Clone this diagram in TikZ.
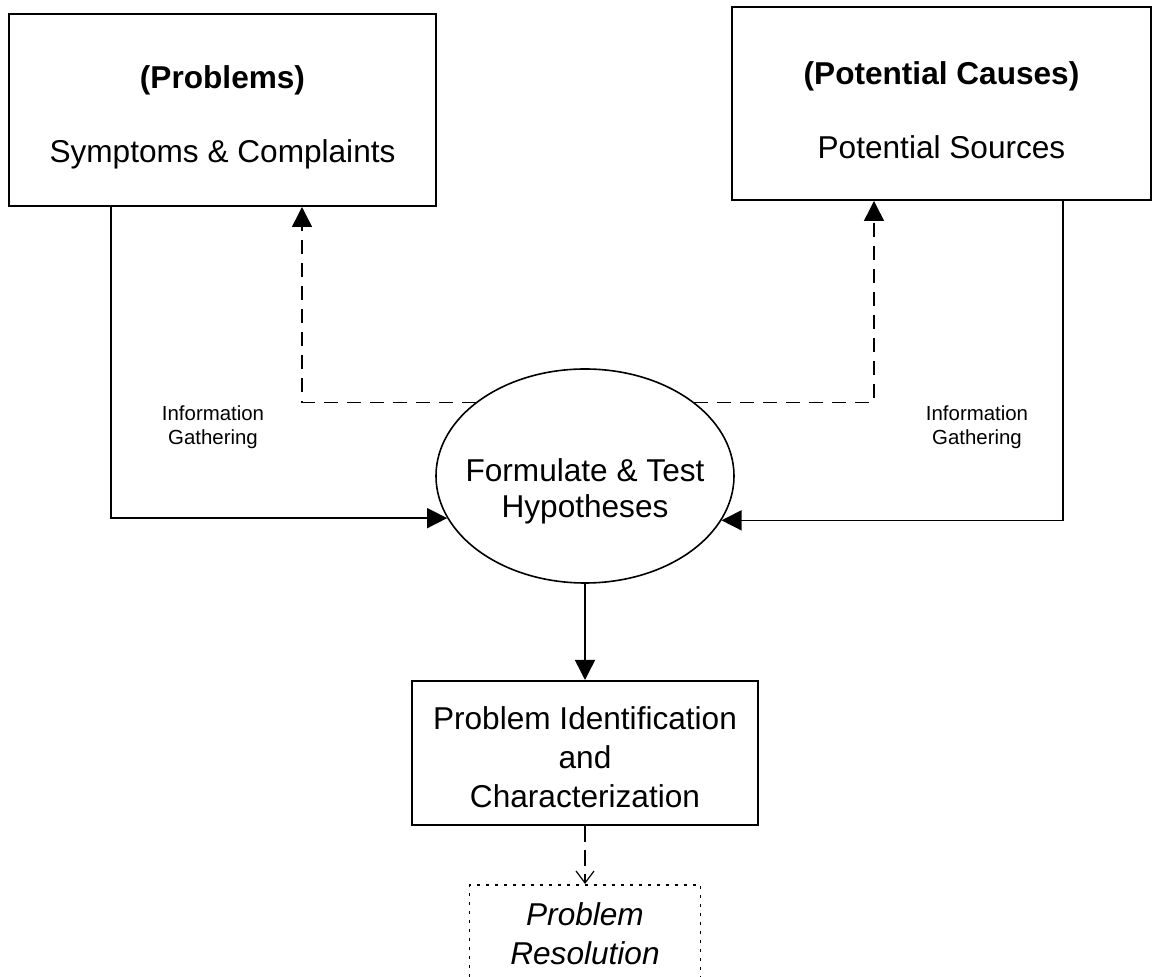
\documentclass[tikz,border=0pt]{standalone}
\usepackage{fontspec}
\setsansfont{Liberation Sans}
\usepackage{tikz}
\usetikzlibrary{shapes.geometric, arrows.meta, positioning, calc}
\tikzset{
  font=\sffamily\fontsize{15.8}{18}\selectfont,
  baseblock/.style={
    rectangle, draw=black, line width=1pt,
    inner sep=0pt, align=center
  },
  topblock/.style={baseblock, minimum width=213.5pt, minimum height=96pt},
  identblock/.style={baseblock, minimum width=173pt, minimum height=72pt,
    font=\sffamily\fontsize{15.8}{19.5}\selectfont},
  resblock/.style={baseblock, line width=0.8pt, dash pattern=on 1.5pt off 3pt,
    minimum width=115.5pt, minimum height=48.5pt,
    font=\sffamily\itshape\fontsize{15.8}{19.5}\selectfont},
  hypblock/.style={
    ellipse, draw=black, line width=0.8pt, inner xsep=-8pt, inner ysep=0pt,
    minimum width=149pt, minimum height=107pt, align=center
  },
  labeltext/.style={align=center, font=\sffamily\fontsize{10.2}{12}\selectfont},
  flowline/.style={
    draw=black, -{Triangle[length=10pt, width=10pt]}, line width=0.75pt
  },
  dashedflow/.style={flowline, dash pattern=on 7pt off 4.5pt},
  resflow/.style={
    draw=black, -{Straight Barb[length=6pt, width=9pt]}, line width=0.6pt,
    dash pattern=on 8pt off 4pt
  }
}

\begin{document}
\begin{tikzpicture}[x=0.5pt, y=-0.5pt]
  \useasboundingbox (0,0) rectangle (1153,977);

  % Top left: problems
  \node[topblock] (probs) at (222.5,110) {
    \rule{0pt}{18.5pt}\textbf{(Problems)}\\[19pt]
    Symptoms \& Complaints
  };

  % Top right: causes
  \node[topblock, minimum width=209.5pt, minimum height=96.5pt] (causes) at (941.5,103.5) {
    \rule{0pt}{18.5pt}\textbf{(Potential Causes)}\\[19pt]
    Potential Sources
  };

  % Centre: hypotheses
  \node[hypblock] (hyp) at (585,476) {\rule{0pt}{26.5pt}Formulate \& Test\\Hypotheses};

  % Identification and resolution
  \node[identblock] (ident) at (585,753) {
    \rule{0pt}{15.5pt}Problem Identification\\
    and\\
    Characterization
  };
  \node[resblock, below=29pt of ident] (resol) {Problem\\Resolution};

  % Side labels
  \node[labeltext] (gatherL) at (213,427) {Information\\Gathering};
  \node[labeltext] (gatherR) at (977,427) {Information\\Gathering};

  \draw[flowline] ([xshift=51.5pt]probs.south west) |- (hyp.197);
  \draw[flowline] ([xshift=-44.5pt]causes.south east) |- (hyp.342);
  \draw[dashedflow] (hyp.146) -| ([xshift=147pt]probs.south west);
  \draw[dashedflow] (hyp.34) -| ([xshift=71.5pt]causes.south west);
  \draw[flowline] (hyp) -- (ident);
  \draw[resflow] (ident) -- (resol);
\end{tikzpicture}
\end{document}
